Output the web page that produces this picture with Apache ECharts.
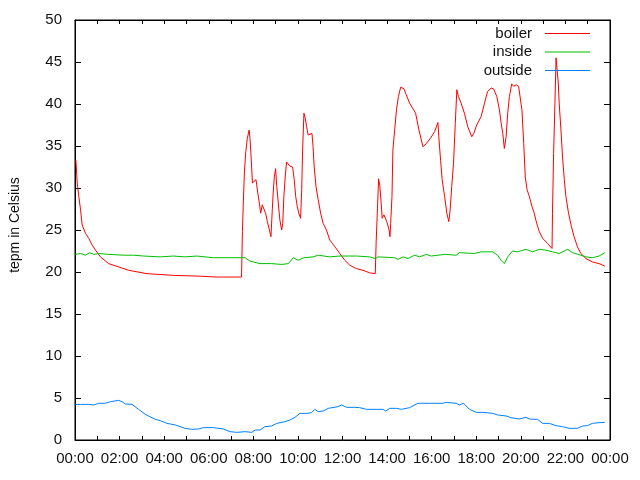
<!DOCTYPE html>
<html>
<head>
<meta charset="utf-8">
<script src="https://cdn.jsdelivr.net/npm/echarts@6/dist/echarts.min.js"></script>
<style>
  html, body { margin: 0; padding: 0; background: #fff; }
  #chart { width: 640px; height: 480px; }
</style>
</head>
<body>
<div id="chart"></div>
<script>
// [hour of day, temperature in °C]
const boiler = [
  [0.04, 33.3], [0.10, 30.6], [0.17, 29.0], [0.25, 27.4], [0.32, 25.6], [0.47, 24.6],
  [0.62, 24.0], [0.77, 23.2], [0.92, 22.6], [1.14, 21.8], [1.51, 21.0], [1.96, 20.6],
  [2.41, 20.2], [3.23, 19.8], [4.42, 19.6], [5.62, 19.5], [6.36, 19.4], [7.47, 19.4],
  [7.51, 24.8], [7.55, 28.2], [7.60, 31.9], [7.66, 34.3], [7.73, 35.9], [7.81, 36.9],
  [7.85, 35.9], [7.90, 33.7], [7.96, 30.6], [8.04, 30.8], [8.12, 31.0], [8.20, 29.4],
  [8.27, 28.2], [8.33, 27.0], [8.40, 28.0], [8.48, 28.2], [8.55, 27.0], [8.63, 26.0],
  [8.72, 25.0], [8.79, 24.2], [8.85, 27.4], [8.89, 29.4], [8.94, 31.3], [9.00, 32.3],
  [9.05, 30.2], [9.12, 28.2], [9.19, 26.2], [9.27, 25.0], [9.32, 25.8], [9.37, 29.0],
  [9.43, 31.3], [9.49, 33.1], [9.57, 32.9], [9.64, 32.6], [9.76, 32.5], [9.83, 31.1],
  [9.90, 29.0], [9.97, 27.8], [10.04, 27.0], [10.12, 26.4], [10.17, 29.8], [10.21, 34.5],
  [10.27, 38.9], [10.33, 38.3], [10.39, 37.3], [10.46, 36.3], [10.54, 36.1], [10.63, 36.5],
  [10.68, 34.9], [10.73, 32.5], [10.81, 30.2], [10.91, 28.6], [11.02, 27.0], [11.13, 25.8],
  [11.28, 25.0], [11.43, 23.8], [11.66, 23.0], [11.88, 22.2], [12.10, 21.4], [12.33, 20.8],
  [12.63, 20.4], [12.92, 20.2], [13.22, 19.9], [13.47, 19.8], [13.51, 23.6], [13.56, 27.0],
  [13.62, 31.1], [13.67, 30.3], [13.73, 28.4], [13.78, 26.4], [13.86, 26.8], [13.94, 27.0],
  [14.00, 25.9], [14.09, 25.0], [14.13, 24.2], [14.16, 25.8], [14.22, 29.0], [14.26, 34.5],
  [14.34, 36.9], [14.42, 39.3], [14.51, 40.9], [14.61, 42.0], [14.76, 41.8], [14.86, 41.1],
  [15.01, 40.1], [15.28, 38.9], [15.43, 36.9], [15.61, 34.9], [15.76, 35.3], [15.94, 35.9],
  [16.13, 36.7], [16.28, 37.8], [16.32, 36.1], [16.40, 33.3], [16.47, 31.0], [16.58, 29.0],
  [16.68, 27.0], [16.77, 26.0], [16.83, 27.4], [16.90, 30.2], [16.98, 32.9], [17.06, 37.7],
  [17.13, 41.7], [17.20, 40.9], [17.32, 40.1], [17.47, 38.9], [17.62, 37.3], [17.80, 36.1],
  [17.89, 36.5], [18.02, 37.5], [18.22, 38.5], [18.37, 40.1], [18.51, 41.5], [18.67, 41.9],
  [18.78, 41.8], [18.92, 40.9], [19.04, 39.3], [19.12, 37.7], [19.19, 36.5], [19.26, 34.7],
  [19.34, 36.1], [19.41, 38.9], [19.49, 40.9], [19.59, 42.4], [19.68, 42.1], [19.79, 42.3],
  [19.90, 42.1], [19.98, 42.3], [20.05, 39.3], [20.13, 35.3], [20.20, 31.3], [20.28, 29.8],
  [20.38, 29.0], [20.50, 27.8], [20.60, 27.0], [20.71, 25.8], [20.83, 24.8], [20.98, 24.0],
  [21.20, 23.4], [21.40, 22.8], [21.42, 27.0], [21.47, 34.1], [21.53, 40.1], [21.58, 45.5],
  [21.63, 44.0], [21.68, 42.5], [21.72, 40.1], [21.80, 36.9], [21.87, 33.7], [21.95, 31.0],
  [22.02, 29.0], [22.14, 27.0], [22.27, 25.4], [22.39, 24.2], [22.54, 23.0], [22.69, 22.2],
  [22.92, 21.6], [23.21, 21.2], [23.51, 21.0], [23.77, 20.7]
];

const inside = [
  [0.01, 22.1], [0.25, 22.2], [0.47, 22.0], [0.66, 22.3], [0.84, 22.1], [1.06, 22.2],
  [1.51, 22.1], [2.18, 22.0], [2.63, 22.0], [3.08, 21.9], [3.83, 21.8], [4.42, 21.9],
  [4.94, 21.8], [5.47, 21.9], [6.21, 21.7], [6.81, 21.7], [7.63, 21.7], [7.85, 21.3],
  [8.30, 21.0], [8.82, 21.0], [9.27, 20.9], [9.57, 21.0], [9.79, 21.7], [10.01, 21.4],
  [10.27, 21.7], [10.68, 21.8], [10.91, 22.0], [11.43, 21.8], [11.88, 21.9], [12.63, 21.9],
  [13.22, 21.8], [13.48, 21.6], [13.59, 21.8], [14.34, 21.7], [14.49, 21.5], [14.71, 21.8],
  [14.94, 21.6], [15.23, 22.0], [15.46, 21.8], [15.76, 22.1], [15.98, 21.9], [16.58, 22.1],
  [17.10, 22.0], [17.25, 22.3], [17.92, 22.2], [18.22, 22.4], [18.74, 22.4], [18.96, 22.0],
  [19.11, 21.4], [19.26, 21.0], [19.41, 21.8], [19.63, 22.5], [19.86, 22.4], [20.23, 22.7],
  [20.53, 22.4], [20.83, 22.7], [21.13, 22.6], [21.42, 22.4], [21.72, 22.2], [22.09, 22.7],
  [22.32, 22.3], [22.69, 22.0], [22.92, 21.8], [23.21, 21.7], [23.51, 21.9], [23.77, 22.3]
];

const outside = [
  [0.02, 4.24], [0.25, 4.24], [0.62, 4.24], [0.84, 4.17], [1.06, 4.37], [1.36, 4.37],
  [1.59, 4.56], [1.96, 4.72], [2.11, 4.56], [2.26, 4.29], [2.56, 4.24], [2.85, 3.65],
  [3.15, 3.06], [3.60, 2.46], [3.83, 2.30], [4.13, 1.98], [4.50, 1.79], [4.94, 1.39],
  [5.24, 1.27], [5.54, 1.31], [5.76, 1.47], [6.21, 1.47], [6.66, 1.31], [6.96, 0.99],
  [7.26, 0.91], [7.63, 0.99], [7.93, 0.91], [8.08, 1.19], [8.30, 1.19], [8.52, 1.59],
  [8.82, 1.67], [9.05, 1.98], [9.42, 2.18], [9.64, 2.38], [9.87, 2.70], [10.09, 3.17],
  [10.39, 3.17], [10.61, 3.25], [10.76, 3.65], [10.91, 3.37], [11.13, 3.45], [11.36, 3.77],
  [11.80, 3.97], [11.96, 4.17], [12.18, 3.89], [12.55, 3.89], [12.77, 3.85], [13.07, 3.65],
  [13.82, 3.65], [13.94, 3.45], [14.12, 3.77], [14.42, 3.77], [14.64, 3.65], [15.01, 3.85],
  [15.38, 4.37], [15.91, 4.37], [16.50, 4.37], [16.65, 4.48], [17.10, 4.37], [17.25, 4.17],
  [17.43, 4.37], [17.70, 3.65], [18.00, 3.29], [18.29, 3.29], [18.74, 3.17], [18.96, 2.98],
  [19.34, 2.86], [19.56, 2.66], [19.93, 2.50], [20.23, 2.70], [20.38, 2.50], [20.75, 2.46],
  [20.98, 1.98], [21.28, 1.98], [21.57, 1.71], [21.87, 1.59], [22.17, 1.39], [22.54, 1.39],
  [22.77, 1.67], [22.99, 1.71], [23.21, 1.98], [23.51, 2.06], [23.77, 2.10]
];

const FONT = "'Liberation Sans', Arial, sans-serif";
const TEXT = "#111";

function hourLabel(v) {
  const h = Math.round(v) % 24;
  return (h < 10 ? "0" : "") + h + ":00";
}

const xBase = {
  type: "value", min: 0, max: 24, interval: 2,
  axisLine: { show: true, onZero: false, lineStyle: { color: "#000", width: 1 } },
  axisTick: { show: true, inside: true, length: 4, lineStyle: { color: "#000" } },
  minorTick: { show: true, splitNumber: 2, length: 4, lineStyle: { color: "#000" } },
  splitLine: { show: false },
};
const yBase = {
  type: "value", min: 0, max: 50, interval: 5,
  axisLine: { show: true, onZero: false, lineStyle: { color: "#000", width: 1 } },
  axisTick: { show: true, inside: true, length: 6, lineStyle: { color: "#000" } },
  splitLine: { show: false },
};

function line(name, data, color) {
  return {
    name, type: "line", data, symbol: "none", animation: false,
    lineStyle: { color, width: 1 }, itemStyle: { color },
  };
}

const chart = echarts.init(document.getElementById("chart"));
chart.setOption({
  backgroundColor: "#fff",
  animation: false,
  textStyle: { fontFamily: FONT },
  grid: { left: 74, right: 30, top: 20, bottom: 40, show: true, borderColor: "#000", borderWidth: 1 },
  legend: {
    orient: "vertical", right: 50, top: 26, align: "right", padding: 0,
    icon: "rect", itemWidth: 45, itemHeight: 1, itemGap: 3.5,
    textStyle: { fontFamily: FONT, fontSize: 15, color: TEXT, padding: [0, 8, 0, 0] },
    data: ["boiler", "inside", "outside"],
  },
  xAxis: [
    Object.assign({}, xBase, {
      position: "bottom",
      axisLabel: { formatter: hourLabel, margin: 11, fontSize: 15, color: TEXT, fontFamily: FONT },
    }),
    Object.assign({}, xBase, { position: "top", axisLabel: { show: false } }),
  ],
  yAxis: [
    Object.assign({}, yBase, {
      position: "left",
      name: "tepm in Celsius", nameLocation: "middle", nameGap: 53,
      nameTextStyle: { fontSize: 14, color: TEXT, fontFamily: FONT, padding: [0, 0, 0, 10] },
      axisLabel: { margin: 13, fontSize: 15, color: TEXT, fontFamily: FONT },
    }),
    Object.assign({}, yBase, { position: "right", axisLabel: { show: false } }),
  ],
  series: [
    line("boiler", boiler, "#ff0000"),
    line("inside", inside, "#00c000"),
    line("outside", outside, "#0080ff"),
  ],
});
</script>
</body>
</html>
